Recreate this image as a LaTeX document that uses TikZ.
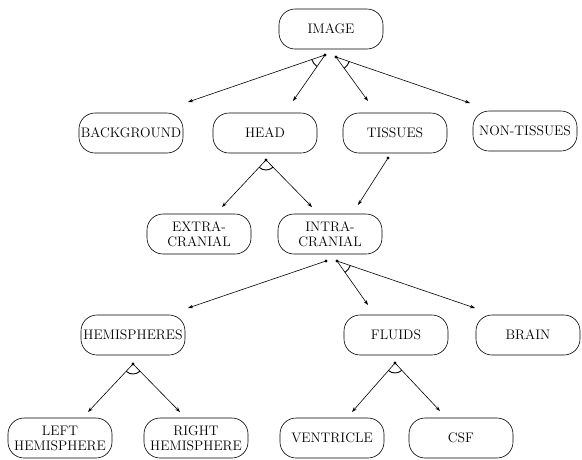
\documentclass[tikz,border=0pt]{standalone}
\usetikzlibrary{arrows.meta,angles}
\begin{document}
\begin{tikzpicture}[x=1pt,y=-1pt,
  box/.style={draw,line width=0.6pt,rounded corners=16pt,minimum width=104pt,minimum height=40pt,inner sep=1pt,align=center,font=\fontsize{13.8}{15}\selectfont},
  conn/.style={line width=0.6pt,-{Stealth[length=5pt,width=3.5pt]}},
  andarc/.style={draw,line width=0.9pt,angle radius=12pt},
  dotm/.style={circle,fill,inner sep=0pt,minimum size=3.2pt}]
\useasboundingbox (0,0) rectangle (582,459);
% nodes
\node[box] (image) at (331,29) {IMAGE};
\node[box] (bg) at (131,133) {BACKGROUND};
\node[box] (head) at (265,133) {HEAD};
\node[box] (tis) at (395,133) {TISSUES};
\node[box] (non) at (525,131) {NON-TISSUES};
\node[box] (extra) at (199,234) {EXTRA-\\CRANIAL};
\node[box] (intra) at (330,234) {INTRA-\\CRANIAL};
\node[box] (hemis) at (133,335) {HEMISPHERES};
\node[box] (fluids) at (396,335) {FLUIDS};
\node[box] (brain) at (528,335) {BRAIN};
\node[box] (left) at (60,438) {LEFT\\HEMISPHERE};
\node[box] (right) at (196,438) {RIGHT\\HEMISPHERE};
\node[box] (vent) at (332,438) {VENTRICLE};
\node[box] (csf) at (461,438) {CSF};
% start dots
\node[dotm] (i1) at (325,55) {};
\node[dotm] (i2) at (336,57) {};
\node[dotm] (h1) at (266,160) {};
\node[dotm] (t1) at (388,158) {};
\node[dotm] (c1) at (326,261) {};
\node[dotm] (c2) at (337,261) {};
\node[dotm] (m1) at (133,364) {};
\node[dotm] (f1) at (395,363) {};
% arrow ends
\coordinate (eBG) at (188,102);
\coordinate (eHEAD) at (293,101);
\coordinate (eTIS) at (368,101);
\coordinate (eNON) at (470,103);
\coordinate (eEX) at (222,207);
\coordinate (eIN) at (312,207);
\coordinate (eIN2) at (358,205);
\coordinate (eHM) at (188,308);
\coordinate (eFL) at (368,305);
\coordinate (eBR) at (475,308);
\coordinate (eL) at (88,412);
\coordinate (eR) at (180,412);
\coordinate (eV) at (352,412);
\coordinate (eC) at (440,411);
% connectors
\draw[conn] (i1.center) -- (eBG);
\draw[conn] (i1.center) -- (eHEAD);
\draw[conn] (i2.center) -- (eTIS);
\draw[conn] (i2.center) -- (eNON);
\draw[conn] (h1.center) -- (eEX);
\draw[conn] (h1.center) -- (eIN);
\draw[conn] (t1.center) -- (eIN2);
\draw[conn] (c1.center) -- (eHM);
\draw[conn] (c2.center) -- (eFL);
\draw[conn] (c2.center) -- (eBR);
\draw[conn] (m1.center) -- (eL);
\draw[conn] (m1.center) -- (eR);
\draw[conn] (f1.center) -- (eV);
\draw[conn] (f1.center) -- (eC);
% AND arcs
\coordinate (pi1) at (325,55);
\coordinate (pi2) at (336,57);
\coordinate (ph1) at (266,160);
\coordinate (pc2) at (337,261);
\coordinate (pm1) at (133,364);
\coordinate (pf1) at (395,363);
\pic[andarc,angle radius=14pt] {angle = eBG--pi1--eHEAD};
\pic[andarc,angle radius=14pt] {angle = eTIS--pi2--eNON};
\pic[andarc,angle radius=10pt] {angle = eEX--ph1--eIN};
\pic[andarc,angle radius=14pt] {angle = eFL--pc2--eBR};
\pic[andarc,angle radius=10pt] {angle = eL--pm1--eR};
\pic[andarc,angle radius=10pt] {angle = eV--pf1--eC};
\end{tikzpicture}
\end{document}
